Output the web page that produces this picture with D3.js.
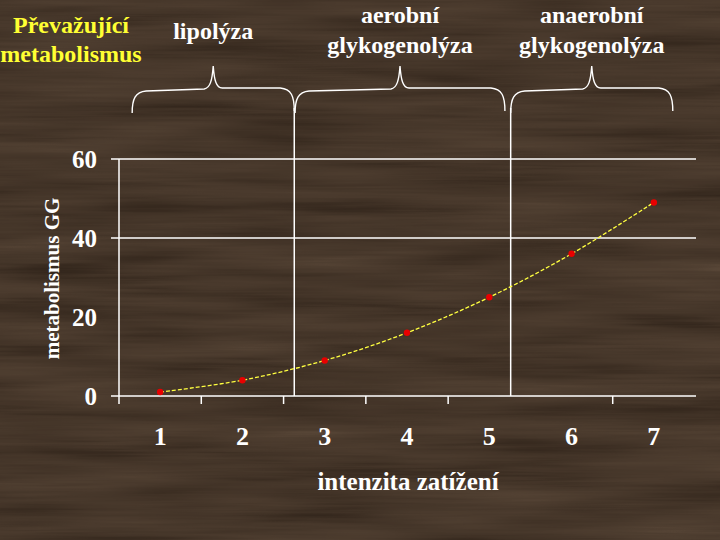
<!DOCTYPE html>
<html>
<head>
<meta charset="utf-8">
<script src="https://cdn.jsdelivr.net/npm/d3@7"></script>
<style>
  html, body { margin: 0; padding: 0; background: #3c2b1f; }
  svg { display: block; }
  text { font-family: "Liberation Serif", "Times New Roman", Times, serif; font-weight: bold; }
</style>
</head>
<body>
<svg id="chart" width="720" height="540"></svg>
<script>
// ---- data ----
const categories = ["1", "2", "3", "4", "5", "6", "7"];
const values = [1, 4, 9, 16, 25, 36, 49];
const yTicks = [0, 20, 40, 60];
const yGrid = [0, 40, 60];
const xTickEdges = [0.5, 1.5, 2.5, 3.5, 4.5, 6.5];
const zoneBoundaries = [2.63, 5.26];
const zoneLabels = [["lipolýza"], ["aerobní", "glykogenolýza"], ["anaerobní", "glykogenolýza"]];
const zoneFrom = [0.66, 2.64, 5.26];
const zoneTo = [2.63, 5.19, 7.23];
const headerLines = ["Převažující", "metabolismus"];
const xTitle = "intenzita zatížení";
const yTitle = "metabolismus GG";

const W = 720, H = 540;
const svg = d3.select("#chart").attr("font-family", '"Liberation Serif", "Times New Roman", serif');

// ---- wood background ----
const defs = svg.append("defs");
const f = defs.append("filter").attr("id", "wood")
  .attr("x", 0).attr("y", 0).attr("width", W).attr("height", H)
  .attr("filterUnits", "userSpaceOnUse")
  .attr("color-interpolation-filters", "sRGB");
f.append("feTurbulence").attr("type", "fractalNoise")
  .attr("baseFrequency", "0.005 0.05").attr("numOctaves", 2).attr("seed", 7).attr("result", "n1");
f.append("feTurbulence").attr("type", "fractalNoise")
  .attr("baseFrequency", "0.01 0.35").attr("numOctaves", 2).attr("seed", 3).attr("result", "n2");
f.append("feComposite").attr("in", "n1").attr("in2", "n2").attr("operator", "arithmetic")
  .attr("k1", 0).attr("k2", 0.75).attr("k3", 0.25).attr("k4", 0).attr("result", "n");
f.append("feComponentTransfer").attr("in", "n").attr("result", "s")
  .call(g => {
    g.append("feFuncR").attr("type", "table").attr("tableValues", "0 0.1 0.2 0.33 0.42 0.5 0.65 1");
    g.append("feFuncA").attr("type", "linear").attr("slope", 0).attr("intercept", 1);
  });
f.append("feColorMatrix").attr("in", "s").attr("type", "matrix")
  .attr("values", "0.30 0 0 0 0.16  0.26 0 0 0 0.115  0.22 0 0 0 0.08  0 0 0 0 1");
svg.append("rect").attr("width", W).attr("height", H).attr("fill", "#3c2b1f");
svg.append("rect").attr("width", W).attr("height", H).attr("filter", "url(#wood)");

// ---- scales ----
const x = d3.scaleBand().domain(categories).range([119, 695]);
const xPos = d3.scaleLinear().domain([0.5, categories.length + 0.5]).range([119, 695]);
const y = d3.scaleLinear().domain([0, 60]).range([396, 159]);

// gridlines
svg.append("g").selectAll("line").data(yGrid).join("line")
  .attr("x1", 111).attr("x2", 696)
  .attr("y1", d => y(d)).attr("y2", d => y(d))
  .attr("stroke", "#fff").attr("stroke-width", 1.5);

// y axis line
svg.append("line").attr("x1", xPos(0.5)).attr("x2", xPos(0.5))
  .attr("y1", y(60)).attr("y2", y(0)).attr("stroke", "#fff").attr("stroke-width", 1.5);

// x ticks
svg.append("g").selectAll("line").data(xTickEdges).join("line")
  .attr("x1", d => xPos(d)).attr("x2", d => xPos(d))
  .attr("y1", y(0)).attr("y2", y(0) + 8)
  .attr("stroke", "#fff").attr("stroke-width", 1.5);

// zone boundary lines
svg.append("g").selectAll("line").data(zoneBoundaries).join("line")
  .attr("x1", d => xPos(d)).attr("x2", d => xPos(d))
  .attr("y1", 108).attr("y2", y(0))
  .attr("stroke", "#fff").attr("stroke-width", 1.5);

// braces
function bracePath(x0, x1) {
  const xp = (x0 + x1) / 2;
  return `M${x0},113 C${x0},99 ${x0 + 3},92 ${x0 + 14},91 L${xp - 9},89 C${xp - 3},88 ${xp - 1},80 ${xp},66 ` +
         `C${xp + 1},80 ${xp + 3},88 ${xp + 9},88 L${x1 - 14},88 C${x1 - 3},89 ${x1},96 ${x1},111`;
}
svg.append("g").selectAll("path").data(zoneLabels).join("path")
  .attr("d", (d, i) => bracePath(xPos(zoneFrom[i]), xPos(zoneTo[i])))
  .attr("fill", "none").attr("stroke", "#fff").attr("stroke-width", 1.4);

// zone labels
zoneLabels.forEach((lines, i) => {
  const cx = (xPos(zoneFrom[i]) + xPos(zoneTo[i])) / 2;
  const baseY = lines.length === 1 ? 39 : 23;
  lines.forEach((t, j) => {
    svg.append("text").attr("x", cx).attr("y", baseY + j * 30)
      .attr("text-anchor", "middle").attr("fill", "#fff").attr("font-size", 24).text(t);
  });
});

// header (yellow)
headerLines.forEach((t, j) => {
  svg.append("text").attr("x", 71).attr("y", 33 + j * 29)
    .attr("text-anchor", "middle").attr("fill", "#ffff33").attr("font-size", 24).text(t);
});

// y tick labels
svg.append("g").selectAll("text").data(yTicks).join("text")
  .attr("x", 97).attr("y", d => y(d) + 9)
  .attr("text-anchor", "end").attr("fill", "#fff").attr("font-size", 25).text(d => d);

// x tick labels
svg.append("g").selectAll("text").data(categories).join("text")
  .attr("x", d => x(d) + x.bandwidth() / 2).attr("y", 445)
  .attr("text-anchor", "middle").attr("fill", "#fff").attr("font-size", 26).text(d => d);

// axis titles
svg.append("text").attr("x", 408).attr("y", 490).attr("text-anchor", "middle")
  .attr("fill", "#fff").attr("font-size", 25).text(xTitle);
svg.append("text").attr("transform", `translate(59,${(197 + 360) / 2}) rotate(-90)`)
  .attr("text-anchor", "middle").attr("fill", "#fff").attr("font-size", 21).text(yTitle);

// data line
const pts = categories.map((c, i) => [x(c) + x.bandwidth() / 2, y(values[i])]);
svg.append("path").attr("d", d3.line().curve(d3.curveCatmullRom)(pts))
  .attr("fill", "none").attr("stroke", "#ffff40").attr("stroke-width", 1.3)
  .attr("stroke-dasharray", "4,2");
svg.append("g").selectAll("circle").data(pts).join("circle")
  .attr("cx", d => d[0]).attr("cy", d => d[1]).attr("r", 3.2)
  .attr("fill", "#e80000");
</script>
</body>
</html>
